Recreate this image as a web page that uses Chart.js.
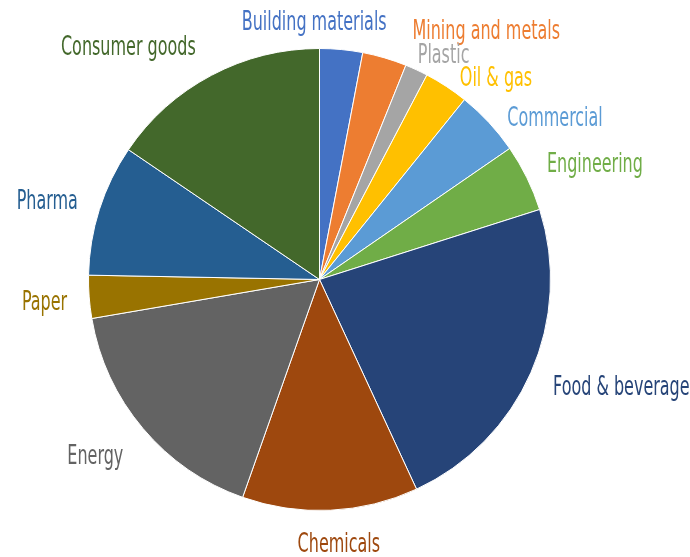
<!DOCTYPE html>
<html>
<head>
<meta charset="utf-8">
<script src="https://cdn.jsdelivr.net/npm/chart.js@4"></script>
<style>
  html, body { margin: 0; padding: 0; background: #fff; }
  #wrap { width: 690px; height: 557px; position: relative; }
</style>
</head>
<body>
<div id="wrap"><canvas id="sectorPie"></canvas></div>
<script>
// sectors, clockwise from 12 o'clock
const sectors = ['Building materials', 'Mining and metals', 'Plastic', 'Oil & gas', 'Commercial',
  'Engineering', 'Food & beverage', 'Chemicals', 'Energy', 'Paper', 'Pharma', 'Consumer goods']
const shares = [3.0, 3.1, 1.6, 3.1, 4.6, 4.7, 23.0, 12.3, 16.9, 3.0, 9.2, 15.5]
const sectorColors = ['#4472C4', '#ED7D31', '#A5A5A5', '#FFC000', '#5B9BD5', '#70AD47',
  '#264478', '#9E480E', '#636363', '#997300', '#255E91', '#43682B']

// small shifts so the outside labels do not collide
const labelNudge = [[-28, -19], [25, -19], [-3, -7], [8, -1], [11, 1], [11, -11],
  [13, 9], [8, 23], [-12, 20], [-12, 3], [-12, -6.5], [-11, -21]]

const labelFont = '26px "DejaVu Sans Condensed", sans-serif'
const capHeight = 18.5
// 'Building materials' should come out about 145px wide whatever font loads
const refText = 'Building materials'
const refWidth = 145

const outsideLabels = {
  id: 'outsideLabels',
  afterDatasetsDraw(chart) {
    const ctx = chart.ctx
    const meta = chart.getDatasetMeta(0)
    ctx.save()
    ctx.font = labelFont
    ctx.textBaseline = 'alphabetic'
    const squash = refWidth / ctx.measureText(refText).width
    meta.data.forEach((arc, i) => {
      const { x, y, startAngle, endAngle, outerRadius } = arc.getProps(['x', 'y', 'startAngle', 'endAngle', 'outerRadius'], true)
      const mid = (startAngle + endAngle) / 2
      const dx = Math.cos(mid)
      const dy = Math.sin(mid)
      const r = outerRadius + 10
      let align = 'center'
      if (dx > 0.2) align = 'left'
      else if (dx < -0.2) align = 'right'
      const lx = x + dx * r + labelNudge[i][0]
      const ly = y + dy * r + labelNudge[i][1] + capHeight / 2
      ctx.fillStyle = sectorColors[i]
      ctx.textAlign = align
      ctx.save()
      ctx.translate(lx, ly)
      ctx.scale(squash, 1)
      ctx.fillText(sectors[i], 0, 0)
      ctx.restore()
    })
    ctx.restore()
  }
}

const ctx = document.getElementById('sectorPie')

new Chart(ctx, {
  type: 'pie',
  data: {
    labels: sectors,
    datasets: [{
      data: shares,
      backgroundColor: sectorColors,
      borderColor: '#ffffff',
      borderWidth: 1
    }]
  },
  options: {
    responsive: true,
    maintainAspectRatio: false,
    animation: false,
    layout: {
      padding: { top: 48, bottom: 46, left: 88, right: 139 }
    },
    plugins: {
      legend: { display: false },
      tooltip: { enabled: false }
    }
  },
  plugins: [outsideLabels]
})
</script>
</body>
</html>
